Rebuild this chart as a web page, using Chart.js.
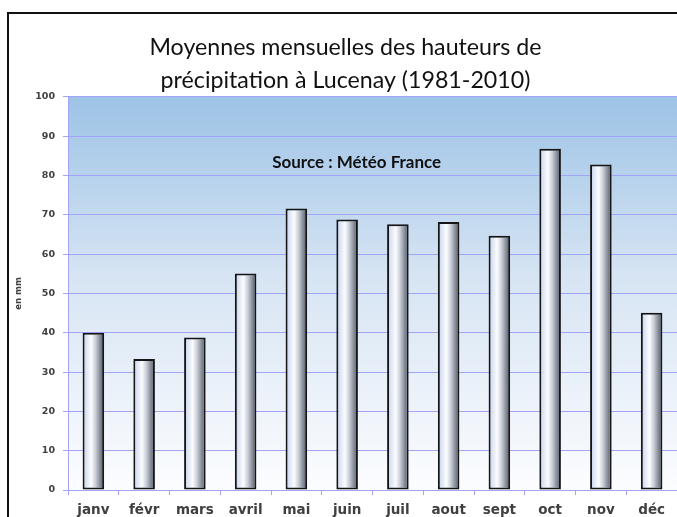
<!DOCTYPE html>
<html>
<head>
<meta charset="utf-8">
<script src="https://cdn.jsdelivr.net/npm/chart.js@4/dist/chart.umd.min.js"></script>
<style>
  html, body { margin: 0; padding: 0; background: #ffffff; }
  #wrap { width: 677px; height: 517px; position: relative; }
</style>
</head>
<body>
<div id="wrap"><canvas id="c" width="677" height="517"></canvas></div>
<script>
// Monthly mean precipitation at Lucenay, 1981-2010 (mm)
const months = ['janv', 'févr', 'mars', 'avril', 'mai', 'juin', 'juil', 'aout', 'sept', 'oct', 'nov', 'déc'];
const rainfall = [40.0, 33.3, 38.8, 55.1, 71.6, 68.8, 67.6, 68.2, 64.7, 86.8, 82.8, 45.1];
const yMin = 0;
const yMax = 100;
const yStep = 10;
const titleLines = ['Moyennes mensuelles des hauteurs de', 'précipitation à Lucenay (1981-2010)'];
const sourceNote = 'Source : Météo France';
const yAxisTitle = 'en mm';

const BAR_PCT = 0.425;
const GRID = '#a3a3fa';
const LABEL = '#404040';

// Horizontal "cylinder" shading for each bar
function barFill(ctx) {
  const chart = ctx.chart;
  const xs = chart.scales.x;
  if (!chart.chartArea || !xs) return '#dde5f3';
  const cx = xs.getPixelForValue(ctx.dataIndex);
  const w = xs.width / months.length * BAR_PCT;
  const g = chart.ctx.createLinearGradient(cx - w / 2, 0, cx + w / 2, 0);
  g.addColorStop(0.0, '#bccbea');
  g.addColorStop(0.15, '#d9e2f4');
  g.addColorStop(0.4, '#fbfcfe');
  g.addColorStop(0.6, '#c9ced8');
  g.addColorStop(0.8, '#8a919c');
  g.addColorStop(1.0, '#4a515c');
  return g;
}

// Page background, plot-area gradient and outer frame
const backdrop = {
  id: 'backdrop',
  beforeDraw(chart) {
    const { ctx, chartArea: a } = chart;
    ctx.save();
    ctx.fillStyle = '#ffffff';
    ctx.fillRect(0, 0, chart.width, chart.height);
    const g = ctx.createLinearGradient(0, a.top, 0, a.bottom);
    g.addColorStop(0, '#9dc3e6');
    g.addColorStop(0.45, '#d6e4f3');
    g.addColorStop(1, '#fcfdff');
    ctx.fillStyle = g;
    ctx.fillRect(a.left, a.top, a.right - a.left, a.bottom - a.top);
    ctx.strokeStyle = '#111111';
    ctx.lineWidth = 2;
    ctx.strokeRect(8, 13, 720, 600);
    ctx.restore();
  }
};

// Data source note inside the plot
const sourceLabel = {
  id: 'sourceLabel',
  afterDraw(chart) {
    const { ctx, chartArea: a } = chart;
    ctx.save();
    ctx.font = 'bold 17px Lato, "Noto Sans", sans-serif';
    ctx.fillStyle = '#111111';
    ctx.textAlign = 'center';
    ctx.textBaseline = 'middle';
    ctx.fillText(sourceNote, a.left + (a.right - a.left) * 0.474, a.top + 66);
    ctx.restore();
  }
};

new Chart(document.getElementById('c'), {
  type: 'bar',
  data: {
    labels: months,
    datasets: [{
      data: rainfall,
      backgroundColor: barFill,
      borderColor: '#151515',
      borderWidth: 2,
      borderSkipped: false,
      barPercentage: BAR_PCT,
      categoryPercentage: 1
    }]
  },
  options: {
    responsive: false,
    animation: false,
    layout: { padding: { top: 14, left: 14, right: 0, bottom: 0 } },
    plugins: {
      legend: { display: false },
      tooltip: { enabled: false },
      title: {
        display: true,
        text: titleLines,
        color: '#111111',
        font: { family: 'Lato, "Noto Sans", sans-serif', size: 23.2, weight: 'normal', lineHeight: 1.42 },
        padding: { top: 17, bottom: 0 }
      }
    },
    scales: {
      x: {
        grid: { display: true, drawOnChartArea: false, drawTicks: true, tickLength: 5, color: GRID, offset: true },
        border: { display: true, color: GRID },
        ticks: {
          color: LABEL,
          padding: 7,
          font: { family: '"DejaVu Sans", Verdana, sans-serif', size: 13.5, weight: 'bold' }
        },
        afterFit(scale) { scale.height = 27; }
      },
      y: {
        min: yMin,
        max: yMax,
        ticks: {
          stepSize: yStep,
          color: LABEL,
          padding: 8,
          font: { family: '"DejaVu Sans", Verdana, sans-serif', size: 9.5, weight: 'bold' }
        },
        grid: { color: GRID, tickLength: 5, drawTicks: true },
        border: { display: true, color: GRID },
        title: {
          display: true,
          text: yAxisTitle,
          color: LABEL,
          padding: 0,
          font: { family: '"DejaVu Sans", Verdana, sans-serif', size: 8.5, weight: 'bold' }
        },
        afterFit(scale) { scale.width = 54; }
      }
    }
  },
  plugins: [backdrop, sourceLabel]
});
</script>
</body>
</html>
